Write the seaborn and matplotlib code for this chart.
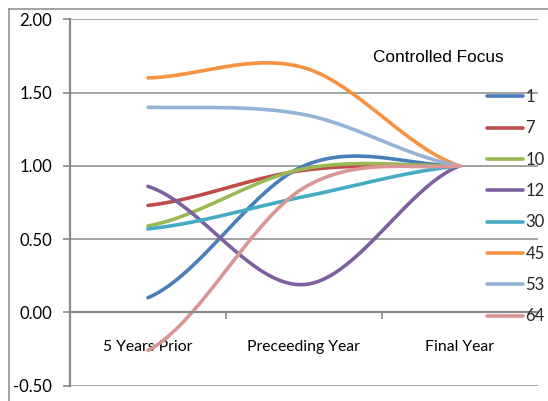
import numpy as np
import pandas as pd
import matplotlib
matplotlib.use("Agg")
import matplotlib.pyplot as plt
from matplotlib.lines import Line2D
import seaborn as sns

# Categories along the x axis
periods = ["5 Years Prior", "Preceeding Year", "Final Year"]

# Series values (one list per focus group)
s1 = [0.10, 1.00, 1.00]
s7 = [0.73, 0.97, 1.00]
s10 = [0.59, 0.98, 1.00]
s12 = [0.86, 0.19, 1.00]
s30 = [0.57, 0.79, 1.00]
s45 = [1.60, 1.67, 1.00]
s53 = [1.40, 1.35, 1.00]
s64 = [-0.26, 0.85, 1.00]

series_names = ["1", "7", "10", "12", "30", "45", "53", "64"]
series_values = [s1, s7, s10, s12, s30, s45, s53, s64]
colors = ["#4A7EBB", "#BE4B48", "#98B954", "#7D60A0",
          "#46AAC5", "#F69240", "#94B3D6", "#DA9694"]

y_ticks = [-0.50, 0.00, 0.50, 1.00, 1.50, 2.00]


def smooth(vals, n=60):
    """Bezier smoothing with Catmull-Rom style control points (tension 1/6)."""
    p = np.asarray(vals, dtype=float)
    x = np.arange(len(p), dtype=float)
    xs, ys = [], []
    for i in range(len(p) - 1):
        pm = p[i - 1] if i > 0 else p[i]
        pn = p[i + 2] if i + 2 < len(p) else p[i + 1]
        c1 = p[i] + (p[i + 1] - pm) / 6.0
        c2 = p[i + 1] - (pn - p[i]) / 6.0
        t = np.linspace(0, 1, n, endpoint=(i == len(p) - 2))
        b = ((1 - t) ** 3 * p[i] + 3 * t * (1 - t) ** 2 * c1
             + 3 * t ** 2 * (1 - t) * c2 + t ** 3 * p[i + 1])
        xs.append(x[i] + t)
        ys.append(b)
    return np.concatenate(xs), np.concatenate(ys)


rows = []
for name, vals in zip(series_names, series_values):
    xs, ys = smooth(vals)
    for order, (xv, yv) in enumerate(zip(xs, ys)):
        rows.append({"series": name, "x": xv, "value": yv, "order": order})
df = pd.DataFrame(rows)

sns.set_theme(style="white")
plt.rcParams["font.family"] = ["Lato", "DejaVu Sans"]

fig = plt.figure(figsize=(5.48, 4.01), dpi=100)
ax = fig.add_axes([70 / 548, 1 - 385.7 / 401, (537.7 - 70) / 548, (385.7 - 19.3) / 401])

palette = dict(zip(series_names, colors))
sns.lineplot(data=df, x="x", y="value", hue="series", hue_order=series_names,
             palette=palette, estimator=None, sort=False, units="series",
             linewidth=2.6, legend=False, ax=ax)

grid_c = "#8A8A8A"
ax.set_xlim(-0.5, 2.5)
ax.set_ylim(-0.5, 2.0)
ax.set_yticks(y_ticks)
ax.set_yticklabels([f"{v:.2f}" for v in y_ticks])
ax.yaxis.grid(True, color=grid_c, linewidth=1.1)
ax.xaxis.grid(False)
ax.set_axisbelow(True)
ax.set_xlabel("")
ax.set_ylabel("")

ax.set_xticks(range(len(periods)))
ax.set_xticklabels(periods)
ax.set_xticks([0.5, 1.5], minor=True)

for side in ["top", "right"]:
    ax.spines[side].set_visible(False)
ax.spines["left"].set_color(grid_c)
ax.spines["left"].set_linewidth(1.6)
ax.spines["bottom"].set_color(grid_c)
ax.spines["bottom"].set_linewidth(1.6)
ax.spines["bottom"].set_position(("data", 0))

ax.tick_params(axis="y", which="major", left=True, length=5, width=1.2,
               color=grid_c, pad=8, labelsize=12, labelcolor="black")
ax.tick_params(axis="x", which="major", bottom=False, length=0, pad=20,
               labelsize=11.3, labelcolor="black")
ax.tick_params(axis="x", which="minor", bottom=True, length=5, width=1.2,
               color=grid_c, direction="out")

# Legend: title placed on its own, entries listed in a column on the right
handles = [Line2D([0], [0], color=c, lw=2.6) for c in colors]
leg = ax.legend(handles, series_names, loc="upper left",
                bbox_to_anchor=(487 / 548, 1 - 89 / 401),
                bbox_transform=fig.transFigure, frameon=False,
                fontsize=12, handlelength=2.15, handletextpad=0.15,
                labelspacing=0.92, borderpad=0, borderaxespad=0)
fig.text(438.5 / 548, 1 - 58 / 401, "Controlled Focus", ha="center", va="center",
         fontsize=12.4, family=["Liberation Sans", "DejaVu Sans"], color="black")

# Outer chart-area border (left and top edges)
border_c = "#8A8A8A"
fig.add_artist(Line2D([8.5 / 548, 8.5 / 548], [0, 1 - 9 / 401],
                      transform=fig.transFigure, color=border_c, lw=1.1))
fig.add_artist(Line2D([8.5 / 548, 1], [1 - 9 / 401, 1 - 9 / 401],
                      transform=fig.transFigure, color=border_c, lw=1.1))

fig.savefig("out.png", dpi=100, facecolor="white")
